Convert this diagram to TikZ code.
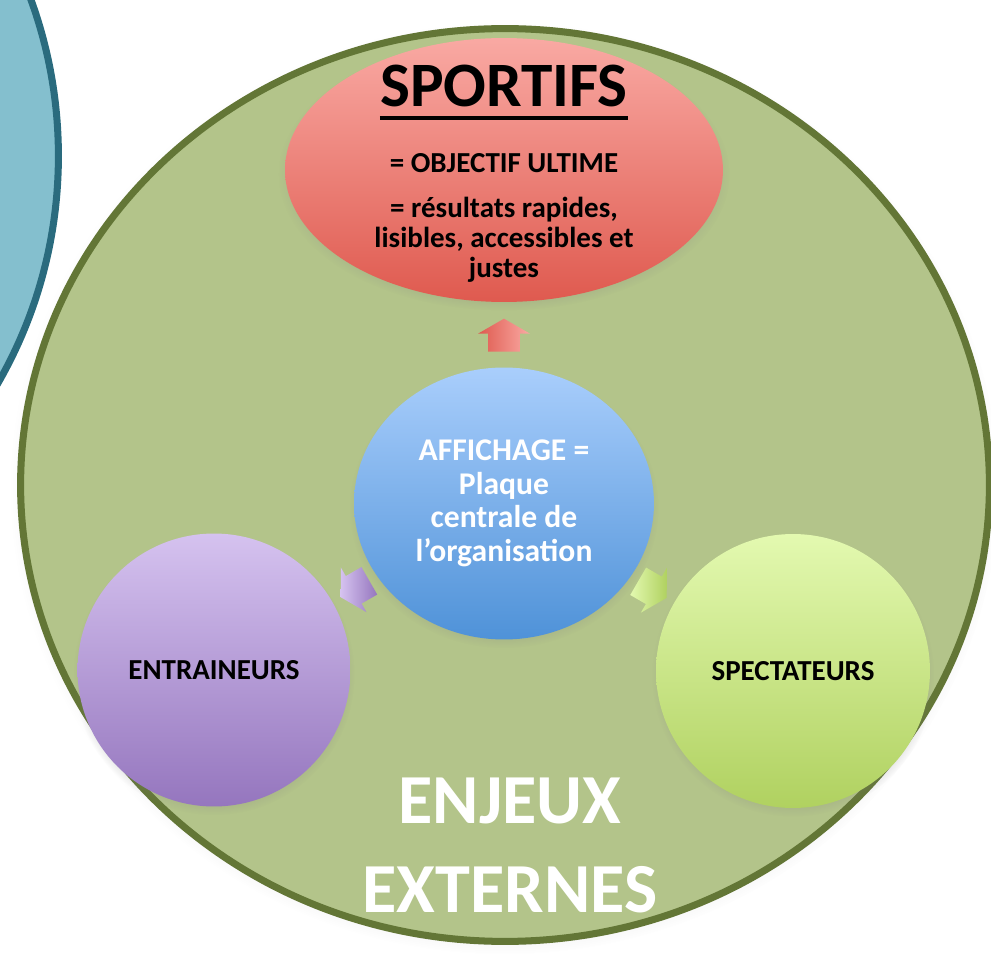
\documentclass[tikz,border=0pt]{standalone}
\usepackage{fontspec}
\setmainfont{Carlito}
\usepackage{tikz}
\usetikzlibrary{shapes.geometric, shapes.arrows, shadows, calc}

\definecolor{enjeuxfill}{HTML}{B3C48A}
\definecolor{enjeuxline}{HTML}{637636}
\definecolor{voisinfill}{HTML}{84BFCE}
\definecolor{voisinline}{HTML}{2A6B7E}
\definecolor{redtop}{HTML}{F9A9A3}
\definecolor{redbot}{HTML}{DF5A4F}
\definecolor{bluetop}{HTML}{A9CEFC}
\definecolor{bluebot}{HTML}{4F92D8}
\definecolor{purptop}{HTML}{D5C2EF}
\definecolor{purpbot}{HTML}{9576BE}
\definecolor{limetop}{HTML}{E3F9B0}
\definecolor{limebot}{HTML}{B0D160}

\begin{document}
\begin{tikzpicture}[x=0.02cm, y=-0.02cm,
    bubble/.style={ellipse, inner sep=0pt, align=center,
      circular drop shadow={shadow xshift=0pt, shadow yshift=-2.5pt, shadow scale=1.03, opacity=0.35}},
    txt/.style={inner sep=0pt, align=center},
    flow/.style={single arrow, single arrow head extend=0.2cm, single arrow tip angle=120,
      minimum height=0.66cm, inner xsep=0pt, inner ysep=0.31cm}]

    \useasboundingbox (0,0) rectangle (991,973);
    \clip (0,0) rectangle (991,973);

    % cercle voisin, coupe par le bord
    \draw[line width=4pt, draw=voisinline, fill=voisinfill] (-398,156) circle[radius=9.13cm];

    \node[ellipse, draw=enjeuxline, line width=4pt, fill=enjeuxfill,
      minimum width=19.38cm, minimum height=18.26cm,
      circular drop shadow={shadow xshift=0pt, shadow yshift=-2pt, shadow scale=1.02, opacity=0.3}] (enjeux) at (505,485) {};

    \node[bubble, top color=redtop, bottom color=redbot, minimum width=8.76cm, minimum height=5.28cm] (sport) at (504,170) {};
    \node[txt, anchor=base, font=\bfseries\fontsize{36}{40}\selectfont] (sporttitle) at (504,107) {SPORTIFS};
    \draw[line width=2.3pt] ([yshift=-6.2pt]sporttitle.base west) -- ([yshift=-6.2pt]sporttitle.base east);
    \node[txt, anchor=base, font=\bfseries\fontsize{16.5}{17.2}\selectfont] (sportdesc) at (504,278)
      {= OBJECTIF ULTIME\\[8.4pt] = résultats rapides,\\ lisibles, accessibles et\\ justes};

    \node[bubble, top color=bluetop, bottom color=bluebot, text=white, minimum width=6cm, minimum height=5.44cm,
      font=\bfseries\fontsize{18}{19.1}\selectfont] (aff) at (504,503.5) {AFFICHAGE =\\ Plaque\\ centrale de\\ l’organisation};

    \node[bubble, top color=purptop, bottom color=purpbot, minimum size=5.46cm,
      font=\bfseries\fontsize{16.5}{19}\selectfont] (ent) at (214,670) {ENTRAINEURS};
    \node[bubble, top color=limetop, bottom color=limebot, minimum size=5.48cm,
      font=\bfseries\fontsize{16.5}{19}\selectfont] (spec) at (793,671) {SPECTATEURS};

    \path let \p1 = ($(sport)-(aff)$), \n1 = {atan2(\y1,\x1)} in
      node[flow, rotate=\n1, left color=redbot, right color=redtop] (tosport) at ($(aff)!0.5!(sport)!1.7pt!(aff)$) {};
    \path let \p1 = ($(ent)-(aff)$), \n1 = {atan2(\y1,\x1)} in
      node[flow, rotate=\n1, left color=purptop, right color=purpbot] (toent) at ($(aff)!0.5!(ent)$) {};
    \path let \p1 = ($(spec)-(aff)$), \n1 = {atan2(\y1,\x1)} in
      node[flow, rotate=\n1, left color=limetop, right color=limebot] (tospec) at ($(aff)!0.5!(spec)$) {};

    \node[txt, anchor=base, text=white, font=\bfseries\fontsize{40}{50.5}\selectfont] (enjeuxlbl) at (510,912) {ENJEUX\\ EXTERNES};
\end{tikzpicture}
\end{document}
